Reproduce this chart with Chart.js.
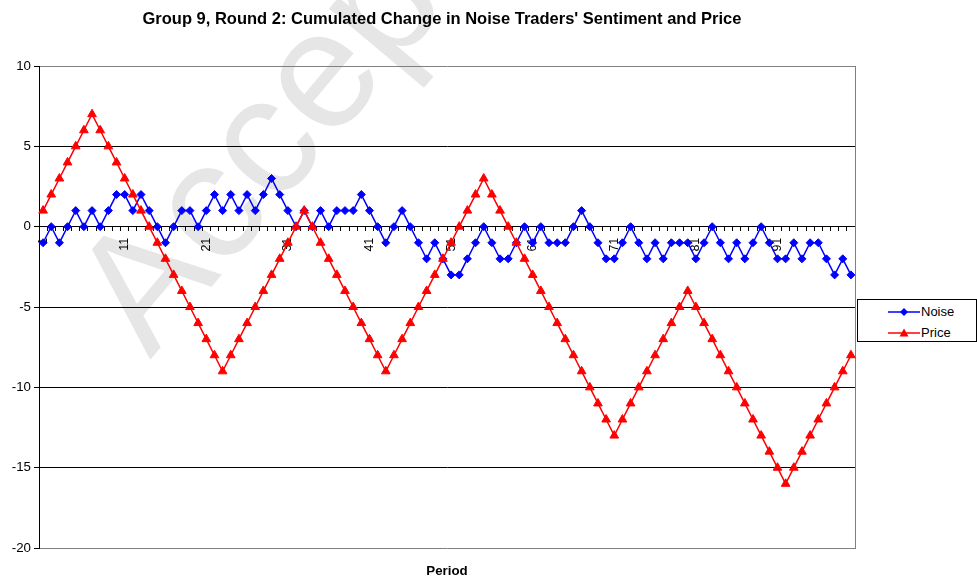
<!DOCTYPE html>
<html>
<head>
<meta charset="utf-8">
<script src="https://cdn.jsdelivr.net/npm/chart.js@4.4.1/dist/chart.umd.min.js"></script>
<style>
  html, body { margin: 0; padding: 0; background: #fff; }
  #wrap { position: relative; width: 977px; height: 580px; }
  #legend { position: absolute; left: 857px; top: 299px; width: 118px; height: 41px;
            border: 1px solid #000; background: #fff;
            font: 13px "Liberation Sans", Arial, sans-serif; color: #000; }
  .row { position: absolute; left: 30px; height: 16px; line-height: 16px; white-space: nowrap; }
  .row canvas { position: absolute; left: 0; top: 2px; }
  .row span { position: absolute; left: 33px; top: 0; }
</style>
</head>
<body>
<div id="wrap">
  <canvas id="c" width="977" height="580"></canvas>
  <div id="legend">
    <div class="row" style="top:4px"><canvas id="ln" width="32" height="12"></canvas><span>Noise</span></div>
    <div class="row" style="top:25px"><canvas id="lp" width="32" height="12"></canvas><span>Price</span></div>
  </div>
</div>
<script>
// ---- data ----
const periods = ['1','2','3','4','5','6','7','8','9','10','11','12','13','14','15','16','17','18','19','20',
  '21','22','23','24','25','26','27','28','29','30','31','32','33','34','35','36','37','38','39','40',
  '41','42','43','44','45','46','47','48','49','50','51','52','53','54','55','56','57','58','59','60',
  '61','62','63','64','65','66','67','68','69','70','71','72','73','74','75','76','77','78','79','80',
  '81','82','83','84','85','86','87','88','89','90','91','92','93','94','95','96','97','98','99','100'];

const noise = [-1,0,-1,0,1,0,1,0,1,2, 2,1,2,1,0,-1,0,1,1,0,
  1,2,1,2,1,2,1,2,3,2, 1,0,1,0,1,0,1,1,1,2,
  1,0,-1,0,1,0,-1,-2,-1,-2, -3,-3,-2,-1,0,-1,-2,-2,-1,0,
  -1,0,-1,-1,-1,0,1,0,-1,-2, -2,-1,0,-1,-2,-1,-2,-1,-1,-1,
  -2,-1,0,-1,-2,-1,-2,-1,0,-1, -2,-2,-1,-2,-1,-1,-2,-3,-2,-3];

const price = [1,2,3,4,5,6,7,6,5,4, 3,2,1,0,-1,-2,-3,-4,-5,-6,
  -7,-8,-9,-8,-7,-6,-5,-4,-3,-2, -1,0,1,0,-1,-2,-3,-4,-5,-6,
  -7,-8,-9,-8,-7,-6,-5,-4,-3,-2, -1,0,1,2,3,2,1,0,-1,-2,
  -3,-4,-5,-6,-7,-8,-9,-10,-11,-12, -13,-12,-11,-10,-9,-8,-7,-6,-5,-4,
  -5,-6,-7,-8,-9,-10,-11,-12,-13,-14, -15,-16,-15,-14,-13,-12,-11,-10,-9,-8];

const yTicks = [-20, -15, -10, -5, 0, 5, 10];
const labelEvery = 10;

const FONT = '"Liberation Sans", Arial, sans-serif';
const BLUE = '#0000FF', RED = '#FF0000';

// legend icons
function icon(id, color, style) {
  const cv = document.getElementById(id), g = cv.getContext('2d');
  g.strokeStyle = color; g.fillStyle = color; g.lineWidth = 1.5;
  g.beginPath(); g.moveTo(0, 6); g.lineTo(32, 6); g.stroke();
  g.beginPath();
  if (style === 'd') { g.moveTo(16, 2); g.lineTo(20, 6); g.lineTo(16, 10); g.lineTo(12, 6); }
  else { g.moveTo(16, 1.5); g.lineTo(20.5, 9.5); g.lineTo(11.5, 9.5); }
  g.closePath(); g.fill();
}
icon('ln', BLUE, 'd');
icon('lp', RED, 't');

const watermark = {
  id: 'watermark',
  beforeDraw(chart) {
    const ctx = chart.ctx;
    ctx.save();
    ctx.translate(150, 360);
    ctx.rotate(-50 * Math.PI / 180);
    ctx.font = '168px ' + FONT;
    ctx.fillStyle = '#e6e6e6';
    ctx.fillText('Accepted', 0, 0);
    ctx.restore();
  }
};

new Chart(document.getElementById('c'), {
  type: 'line',
  data: {
    labels: periods,
    datasets: [
      { label: 'Noise', data: noise, order: 1, borderColor: BLUE, backgroundColor: BLUE,
        borderWidth: 1.5, pointStyle: 'rectRot', pointRadius: 4, pointBorderWidth: 1,
        pointBackgroundColor: BLUE, pointBorderColor: BLUE, tension: 0, fill: false },
      { label: 'Price', data: price, order: 0, borderColor: RED, backgroundColor: RED,
        borderWidth: 1.5, pointStyle: 'triangle', pointRadius: 5, pointBorderWidth: 1,
        pointBackgroundColor: RED, pointBorderColor: RED, tension: 0, fill: false }
    ]
  },
  options: {
    responsive: false,
    animation: false,
    events: [],
    layout: { padding: { left: 0, right: 93, top: 0, bottom: 0 } },
    plugins: {
      legend: { display: false },
      tooltip: { enabled: false },
      title: { display: true, text: "Group 9, Round 2: Cumulated Change in Noise Traders' Sentiment and Price",
               color: '#000', font: { family: FONT, size: 16.5, weight: 'bold' },
               padding: { top: 9.6, bottom: 36.6 } },
      subtitle: { display: true, position: 'bottom', fullSize: false, text: 'Period', color: '#000',
                  font: { family: FONT, size: 13.3, weight: 'bold' }, padding: { top: 15.5, bottom: 0.5 } }
    },
    scales: {
      x: {
        axis: 'x', type: 'category', offset: true, position: { y: 0 },
        grid: { display: true, drawOnChartArea: false, drawTicks: true, tickLength: 4,
                tickColor: '#000', offset: true },
        border: { display: true, color: '#000', width: 1 },
        ticks: { autoSkip: false, minRotation: 90, maxRotation: 90, padding: 7, color: '#000',
                 font: { family: FONT, size: 12.5 },
                 callback: (v, i) => (i % labelEvery === 0 ? periods[i] : '') }
      },
      y: {
        min: -20, max: 10,
        afterFit: s => { s.width = 39; },
        afterBuildTicks: s => { s.ticks = yTicks.map(v => ({ value: v })); },
        grid: { color: c => (c.tick && (c.tick.value === 10 || c.tick.value === -20)) ? '#808080' : '#000',
                tickColor: '#000', tickLength: 5, lineWidth: 1 },
        border: { display: true, color: '#000', width: 1 },
        ticks: { padding: 3, color: '#000', font: { family: FONT, size: 13.3 } }
      },
      yRight: {
        axis: 'y', type: 'linear', position: 'right', min: -20, max: 10,
        afterFit: s => { s.width = 29; },
        grid: { display: true, drawOnChartArea: false, drawTicks: false },
        border: { display: true, color: '#808080', width: 1 },
        ticks: { display: false }
      }
    }
  },
  plugins: [watermark]
});
</script>
</body>
</html>
